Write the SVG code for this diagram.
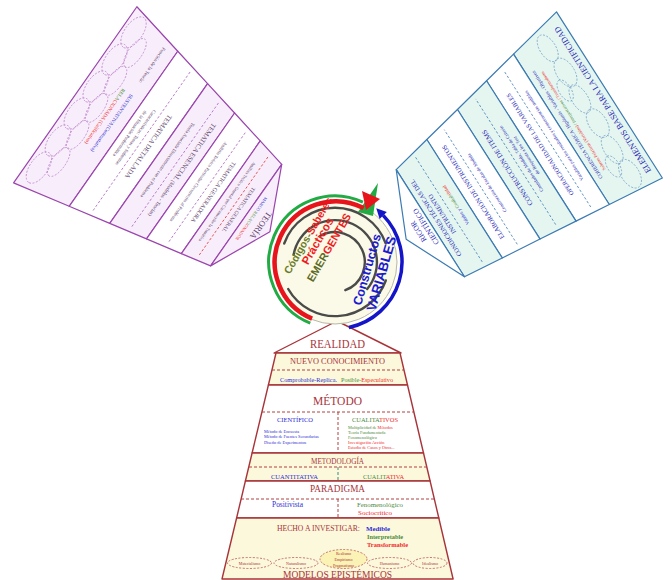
<svg xmlns="http://www.w3.org/2000/svg" width="672" height="580" viewBox="0 0 672 580">
<defs>
<style>
.ps{stroke:#9a44ad;stroke-width:1.2;stroke-linejoin:round}
.pd{fill:none;stroke:#b06cc2;stroke-width:0.8;stroke-dasharray:2.5 2}
.pe{fill:none;stroke:#b77ac6;stroke-width:0.7;stroke-dasharray:2 1.5}
.lt{font-family:"Liberation Serif",serif;fill:#5b3d6a;text-anchor:middle}
.bs{stroke:#3b7ab2;stroke-width:1.2;stroke-linejoin:round}
.bd{fill:none;stroke:#4f86bd;stroke-width:0.8;stroke-dasharray:2.5 2}
.be{fill:none;stroke:#6c9ac4;stroke-width:0.7;stroke-dasharray:2 1.5}
.rt{font-family:"Liberation Serif",serif;fill:#2a2ab8;text-anchor:middle}
.ys{stroke:#a8343a;stroke-width:1.4;stroke-linejoin:round}
.yd{fill:none;stroke:#b0403f;stroke-width:1;stroke-dasharray:3 2}
.ye{fill:none;stroke:#b0403f;stroke-width:0.7;stroke-dasharray:2 1.5}
.yt{font-family:"Liberation Serif",serif;fill:#a8343a;text-anchor:middle}
.st{font-family:"Liberation Serif",serif}
.cr{fill:#fcf8dc}.wh{fill:#ffffff}.lv{fill:#f8eefb}.mt{fill:#e5f6f0}
.bl{fill:#2d2dd4}.gr{fill:#4c8a3c}.rd{fill:#f02a2a}
.ct{font-family:"Liberation Sans",Arial,sans-serif;font-weight:bold;text-anchor:middle}
</style>
</defs>

<!-- LEFT PANEL: TEORIA -->
<g id="teoria" transform="rotate(125)">
  <polygon class="ps lv" points="-73,-116 142,-116 129.3,-175 -60,-175"/>
  <polygon class="ps wh" points="-60,-175 129.3,-175 120,-218 -50.6,-218"/>
  <polygon class="ps lv" points="-50.6,-218 120,-218 111.6,-257 -42,-257"/>
  <polygon class="ps wh" points="-42,-257 111.6,-257 103.7,-294 -33.8,-294"/>
  <polygon class="ps lv" points="-33.8,-294 103.7,-294 97,-325 -27,-325"/>
  <polygon class="ps lv" points="-27,-325 97,-325 35,-354"/>
  <ellipse class="pe" cx="-50" cy="-128" rx="18" ry="9"/>
  <ellipse class="pe" cx="-17" cy="-128" rx="18" ry="9"/>
  <ellipse class="pe" cx="16" cy="-128" rx="18" ry="9"/>
  <ellipse class="pe" cx="49" cy="-128" rx="18" ry="9"/>
  <ellipse class="pe" cx="82" cy="-128" rx="18" ry="9"/>
  <ellipse class="pe" cx="115" cy="-128" rx="18" ry="9"/>
  <ellipse class="pe" cx="-34" cy="-141" rx="17" ry="7"/>
  <ellipse class="pe" cx="0" cy="-141" rx="17" ry="7"/>
  <ellipse class="pe" cx="33" cy="-141" rx="17" ry="7"/>
  <ellipse class="pe" cx="66" cy="-141" rx="17" ry="7"/>
  <ellipse class="pe" cx="99" cy="-141" rx="17" ry="7"/>
  <text class="st" x="-55" y="-160.5" font-size="5" fill="#5b3d6a">Función de la Teoría:</text>
  <text class="st" x="2" y="-160.5" font-size="5.2" fill="#3030d0">SUSTENTATIVA (Contrastativa)</text>
  <text class="st" x="2" y="-151" font-size="5.2"><tspan class="gr">RELA</tspan><tspan class="rd">CIONADA (Calificativo)</tspan></text>
  <text class="lt" x="35" y="-203.5" font-size="6.8">TEMATICA DETALLADA</text>
  <line class="pd" x1="-50" y1="-197" x2="120" y2="-197"/>
  <text class="lt" x="35" y="-188.5" font-size="4.8">Características: Temas y Subtemas</text>
  <text class="lt" x="35" y="-181.5" font-size="4.8">de la Situación Problemática</text>
  <text class="lt" x="35" y="-244.5" font-size="6.8">TEMATICA ESENCIAL <tspan font-size="5.4">(Modelos - Teorías)</tspan></text>
  <line class="pd" x1="-41" y1="-238" x2="110" y2="-238"/>
  <text class="lt" x="35" y="-227.5" font-size="4.8">Teoría Asociada Directamente con el Problema</text>
  <text class="lt" x="35" y="-283" font-size="6">TEMATICA GENERADORA</text>
  <line class="pd" x1="-32" y1="-277" x2="102" y2="-277"/>
  <text class="lt" x="35" y="-265.5" font-size="4.6">Análisis Teórico Particular Circunscrito al Problema</text>
  <text class="lt" x="35" y="-314" font-size="5.4">TEMATICA GENERAL</text>
  <line x1="-25" y1="-309.5" x2="95" y2="-309.5" stroke="#e04040" stroke-width="0.8" stroke-dasharray="2.5 2"/>
  <text class="lt" x="35" y="-300.5" font-size="4.4">Análisis Teórico General que Circunscribe la Temática</text>
  <text class="st" x="35" y="-330" font-size="4.4" text-anchor="middle"><tspan class="bl">MARCO </tspan><tspan class="gr">RELACI</tspan><tspan class="rd">ONADOR</tspan></text>
  <text class="lt" x="35" y="-340" font-size="8.5">TEORÍA</text>
</g>

<!-- RIGHT PANEL: CIENTIFICIDAD -->
<g id="cientificidad" transform="rotate(237.5)">
  <polygon class="bs mt" points="-506,463 -309,463 -321.6,404 -499.8,404"/>
  <polygon class="bs wh" points="-499.8,404 -321.6,404 -329.5,367 -496,367"/>
  <polygon class="bs mt" points="-496,367 -329.5,367 -338.1,327 -491.8,327"/>
  <polygon class="bs wh" points="-491.8,327 -338.1,327 -347,285 -487.4,285"/>
  <polygon class="bs mt" points="-487.4,285 -347,285 -356,243 -483,243"/>
  <polygon class="bs wh" points="-483,243 -356,243 -420,214"/>
  <text class="rt" x="-408" y="457.5" font-size="8.5" textLength="172" lengthAdjust="spacingAndGlyphs">ELEMENTOS BASE PARA LA CIENTIFICIDAD</text>
  <ellipse class="be" cx="-485" cy="438" rx="16" ry="9"/>
  <ellipse class="be" cx="-455" cy="436" rx="16" ry="8"/>
  <ellipse class="be" cx="-425" cy="438" rx="16" ry="9"/>
  <ellipse class="be" cx="-395" cy="436" rx="16" ry="8"/>
  <ellipse class="be" cx="-365" cy="438" rx="16" ry="9"/>
  <ellipse class="be" cx="-335" cy="436" rx="15" ry="8"/>
  <ellipse class="be" cx="-470" cy="428" rx="12" ry="6"/>
  <ellipse class="be" cx="-380" cy="428" rx="12" ry="6"/>
  <text class="rt" x="-410" y="413" font-size="5.2">COHERENCIA TEÓRICA: Hipótesis - Variables - Objetivos</text>
  <text class="st" x="-410" y="420" font-size="4.5" text-anchor="middle"><tspan class="rd">Saberes Prácticos (Variables)</tspan><tspan class="gr"> / Interpretativos</tspan><tspan class="rd"> / Transformadores</tspan></text>
  <text class="rt" x="-412" y="380" font-size="6.3">OPERACIONALIDAD DE LAS VARIABLES</text>
  <line class="bd" x1="-492" y1="387" x2="-330" y2="387"/>
  <text class="rt" x="-412" y="396" font-size="4.8">Variables para los resultados y consecuencias medibles</text>
  <text class="rt" x="-414" y="340" font-size="7">CONSTRUCCIÓN DE ITEMS</text>
  <line class="bd" x1="-488" y1="348" x2="-339" y2="348"/>
  <text class="rt" x="-414" y="356" font-size="4.8">Cantidades de Medida, Tabla de Criterio</text>
  <text class="rt" x="-414" y="362" font-size="4.8">de Respuesta a los Test</text>
  <text class="rt" x="-416" y="298" font-size="6.6">ELABORACIÓN DE INSTRUMENTOS</text>
  <line class="bd" x1="-484" y1="305" x2="-348" y2="305"/>
  <text class="rt" x="-416" y="314" font-size="4.8">Construcción de Escalas de Medida</text>
  <text class="rt" x="-418" y="252.5" font-size="6.4">CONDICIONES TÉCNICAS DEL</text>
  <text class="rt" x="-418" y="260" font-size="6.4">INSTRUMENTO</text>
  <line class="bd" x1="-480" y1="266" x2="-356" y2="266"/>
  <text class="st" x="-418" y="276" font-size="4.8" text-anchor="middle"><tspan class="bl">Validez y </tspan><tspan class="gr">Confiab</tspan><tspan class="rd">ilidad</tspan></text>
  <text class="rt" x="-420" y="231" font-size="7.5">RIGOR</text>
  <text class="rt" x="-420" y="240" font-size="7.5">CIENTÍFICO</text>
</g>

<!-- PYRAMID -->
<g id="piramide">
  <polygon class="ys wh" points="337,321 274,353 401,353"/>
  <text class="yt" x="337.5" y="347.5" font-size="12" textLength="55" lengthAdjust="spacingAndGlyphs">REALIDAD</text>
  <polygon class="ys cr" points="276,353 400,353 407.5,385 268.4,385"/>
  <text class="yt" x="337.5" y="364" font-size="8.5" textLength="95" lengthAdjust="spacingAndGlyphs">NUEVO CONOCIMIENTO</text>
  <line class="yd" x1="272" y1="370" x2="404" y2="370"/>
  <text class="st bl" x="308.5" y="381.5" font-size="6" text-anchor="middle" textLength="57" lengthAdjust="spacingAndGlyphs">Comprobable-Replica.</text>
  <text class="st" x="341" y="381.5" font-size="6" textLength="52" lengthAdjust="spacingAndGlyphs"><tspan class="gr">Posible-</tspan><tspan class="rd">Especulativo</tspan></text>

  <polygon class="ys wh" points="268.4,385 407.5,385 423.5,453 252.1,453"/>
  <text class="yt" x="337.5" y="404.5" font-size="12" textLength="49" lengthAdjust="spacingAndGlyphs">MÉTODO</text>
  <line class="yd" x1="262" y1="412" x2="414" y2="412"/>
  <line class="yd" x1="338" y1="412" x2="338" y2="453"/>
  <text class="st bl" x="295" y="421.5" font-size="6" text-anchor="middle" textLength="36" lengthAdjust="spacingAndGlyphs">CIENTÍFICO</text>
  <text class="st" x="375" y="421.5" font-size="6" text-anchor="middle" textLength="46" lengthAdjust="spacingAndGlyphs"><tspan class="gr">CUALITA</tspan><tspan class="rd">TIVOS</tspan></text>
  <g class="st" font-size="4.3">
    <text class="bl" x="264" y="432.5">Método de Encuesta</text>
    <text class="bl" x="264" y="438">Método de Fuentes Secundarias</text>
    <text class="bl" x="264" y="443.5">Diseño de Experimentos</text>
    <text x="348" y="428.5"><tspan class="gr">Multiplicidad de </tspan><tspan class="rd">Métodos</tspan></text>
    <text class="gr" x="348" y="433.5">Teoría Fundamentada</text>
    <text class="gr" x="348" y="438.5">Fenomenológico</text>
    <text class="rd" x="348" y="444">Investigación Acción</text>
    <text class="rd" x="348" y="449">Estudio de Casos y Otros...</text>
  </g>

  <polygon class="ys cr" points="252.1,453 423.5,453 430.1,481 245.4,481"/>
  <text class="yt" x="337.5" y="464" font-size="8" textLength="53" lengthAdjust="spacingAndGlyphs">METODOLOGÍA</text>
  <line class="yd" x1="249" y1="467" x2="427" y2="467"/>
  <line x1="338" y1="467" x2="338" y2="481" stroke="#3a8a7a" stroke-width="1" stroke-dasharray="3 2"/>
  <text class="st bl" x="294.5" y="478.5" font-size="6.5" text-anchor="middle" textLength="47" lengthAdjust="spacingAndGlyphs">CUANTITATIVA</text>
  <text class="st" x="383.5" y="478.5" font-size="6.5" text-anchor="middle" textLength="41" lengthAdjust="spacingAndGlyphs"><tspan class="gr">CUALIT</tspan><tspan class="rd">ATIVA</tspan></text>

  <polygon class="ys wh" points="245.4,481 430.1,481 438.8,518 236.6,518"/>
  <text class="yt" x="337.5" y="492" font-size="11" textLength="55" lengthAdjust="spacingAndGlyphs">PARADIGMA</text>
  <line class="yd" x1="241" y1="499" x2="434" y2="499"/>
  <line class="yd" x1="338" y1="499" x2="338" y2="518"/>
  <text class="st bl" x="287.5" y="507" font-size="7.5" text-anchor="middle" textLength="31" lengthAdjust="spacingAndGlyphs">Positivista</text>
  <text class="st gr" x="380" y="507" font-size="7" text-anchor="middle" textLength="46" lengthAdjust="spacingAndGlyphs">Fenomenológico</text>
  <text class="st rd" x="375" y="514.5" font-size="7" text-anchor="middle" textLength="34" lengthAdjust="spacingAndGlyphs">Sociocrítico</text>

  <polygon class="ys cr" points="236.6,518 438.8,518 453.1,579 222,579"/>
  <text class="st" x="277" y="531" font-size="7.6" fill="#a8343a" textLength="83" lengthAdjust="spacingAndGlyphs">HECHO A INVESTIGAR:</text>
  <text class="st bl" x="366" y="530.5" font-size="6.5" font-weight="bold" textLength="24" lengthAdjust="spacingAndGlyphs">Medible</text>
  <text class="st gr" x="367" y="538.5" font-size="6.5" font-weight="bold" textLength="36" lengthAdjust="spacingAndGlyphs">Interpretable</text>
  <text class="st rd" x="367" y="546.5" font-size="6.5" font-weight="bold" textLength="41" lengthAdjust="spacingAndGlyphs">Transformable</text>
  <ellipse class="ye" cx="249.5" cy="563" rx="22" ry="5.5"/>
  <ellipse class="ye" cx="296" cy="563" rx="22" ry="5.5"/>
  <ellipse class="ye" cx="389.5" cy="563" rx="22" ry="5.5"/>
  <ellipse class="ye" cx="430" cy="563" rx="17" ry="5.5"/>
  <ellipse cx="343.5" cy="559" rx="23.5" ry="9.5" fill="#fbf2b6" stroke="#b0403f" stroke-width="0.7" stroke-dasharray="2 1.5"/>
  <g class="yt" font-size="4">
    <text x="249.5" y="564.5">Materialismo</text>
    <text x="296" y="564.5">Naturalismo</text>
    <text x="389.5" y="564.5">Humanismo</text>
    <text x="430" y="564.5">Idealismo</text>
    <text x="343.5" y="554.5">Realismo</text>
    <text x="343.5" y="560.5">Empirismo</text>
    <text x="343.5" y="566.5">Pragmatismo</text>
  </g>
  <text class="yt" x="337.5" y="577.5" font-size="9.5" textLength="109" lengthAdjust="spacingAndGlyphs">MODELOS EPISTÉMICOS</text>
</g>

<!-- CENTER CYCLE -->
<g id="ciclo">
  <circle cx="335" cy="262" r="62" fill="#fbf9e8" stroke="#b8b8a8" stroke-width="1"/>
  <g fill="none" stroke="#4a4a48" stroke-width="2.4" stroke-linecap="round">
    <path d="M284.2,243.5 A54,54 0 0 1 385.8,243.5"/>
    <path d="M288.2,289 A54,54 0 0 0 385.8,280.5"/>
    <path d="M293.6,254.7 A42,42 0 1 1 367.2,289"/>
    <path d="M320,236 A30,30 0 1 1 345.3,290.2"/>
  </g>
  <g class="ct" transform="translate(317.5,241) rotate(-60)">
    <text y="-7.2" font-size="10.5"><tspan fill="#6a7b26">Códigos-</tspan><tspan fill="#ee1c1c">Saberes</tspan></text>
    <text y="4" font-size="11.5" fill="#ee1c1c">Prácticos</text>
    <text y="17" font-size="11"><tspan fill="#5c6b23">EMER</tspan><tspan fill="#ee1c1c">GENTES</tspan></text>
  </g>
  <g class="ct" fill="#1a1ad0" transform="translate(367,269.5) rotate(-74)">
    <text y="4.3" font-size="12.5">Constructos</text>
    <text y="19.5" font-size="13.5">VARIABLES</text>
  </g>
</g>

<g id="connectors">
  <path d="M310.3,323.2 A66,66 0 1 1 362.9,202.2" fill="none" stroke="#22aa44" stroke-width="3"/>
  <polygon points="378,183 373,216 358,212" fill="#22aa44"/>
  <path d="M312.1,318.6 A61,61 0 1 1 363.6,208.1" fill="none" stroke="#e8141c" stroke-width="4.5"/>
  <polygon points="380,199 362,191 366,210" fill="#e8141c"/>
  <path d="M348.9,327.5 A67,67 0 0 0 383.2,215.4" fill="none" stroke="#1414c8" stroke-width="3.5"/>
  <polygon points="376.3,208.2 386.8,211.9 379.6,218.9" fill="#1414c8"/>
</g>
</svg>
